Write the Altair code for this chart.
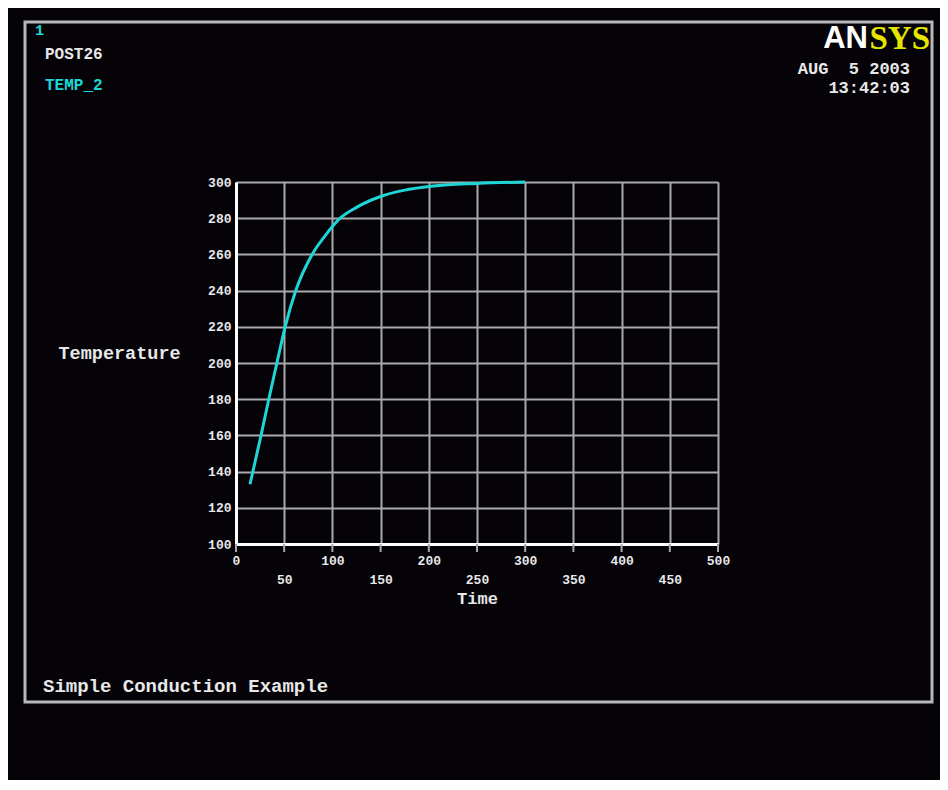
import altair as alt
import pandas as pd

# ---- data ----
time_vals = [14.5, 26, 34, 42, 51, 62, 79, 92, 108, 125, 150, 175, 200, 250, 300]
temp_vals = [133, 160, 180, 199, 220, 240, 260, 270, 280, 286, 292, 295.5, 297.5, 299.2, 300]

x_ticks = [0, 50, 100, 150, 200, 250, 300, 350, 400, 450, 500]
y_ticks = [100, 120, 140, 160, 180, 200, 220, 240, 260, 280, 300]

FONT = "Liberation Mono"
W, H = 482, 362
CYAN = "#1fd6d6"
GRID = "#a9a9a9"
TXT = "#e8e8e8"

df = pd.DataFrame({"Time": time_vals, "Temperature": temp_vals})
tick_df = pd.DataFrame({"t": x_ticks})

x_scale = alt.Scale(domain=[0, 500], nice=False, zero=False)
y_scale = alt.Scale(domain=[100, 300], nice=False, zero=False)

line = alt.Chart(df).mark_line(color=CYAN, strokeWidth=3, interpolate="monotone").encode(
    x=alt.X("Time:Q", scale=x_scale,
            axis=alt.Axis(values=x_ticks, title="Time", grid=True, ticks=False,
                          gridColor=GRID, gridWidth=2, domainColor="white", domainWidth=3,
                          labelColor=TXT, labelFont=FONT, labelFontWeight="bold",
                          labelFontSize=13, labelFlush=False, labelOverlap=False,
                          labelPadding={"condition": {"test": "datum.value % 100 === 0", "value": 10}, "value": 29},
                          titleColor=TXT, titleFont=FONT, titleFontWeight="bold",
                          titleFontSize=17, titleY=54, titleBaseline="middle")),
    y=alt.Y("Temperature:Q", scale=y_scale,
            axis=alt.Axis(values=y_ticks, title="Temperature", grid=True, ticks=False,
                          gridColor=GRID, gridWidth=2, domainColor="white", domainWidth=3,
                          labelColor=TXT, labelFont=FONT, labelFontWeight="bold",
                          labelFontSize=13, labelPadding=5, labelFlush=False,
                          labelOverlap=False,
                          titleColor=TXT, titleFont=FONT, titleFontWeight="bold",
                          titleFontSize=18.5, titleAngle=0, titleAlign="left",
                          titleX=-178, titleY=170, titleBaseline="middle")),
)

tick_ext = alt.Chart(tick_df).mark_rule(color=GRID, strokeWidth=2).encode(
    x=alt.X("t:Q", scale=x_scale),
    y=alt.value(H),
    y2=alt.value(H + 8),
)

one = pd.DataFrame({"k": [0]})


def label(txt, x, y, color=TXT, size=17, align="left", font=FONT, weight="bold"):
    return alt.Chart(one).mark_text(
        text=txt, color=color, fontSize=size, align=align, baseline="middle",
        font=font, fontWeight=weight
    ).encode(x=alt.value(x), y=alt.value(y))


frame = alt.Chart(one).mark_rect(fill=None, stroke="#b8b8b8", strokeWidth=3).encode(
    x=alt.value(-211), x2=alt.value(696), y=alt.value(-160), y2=alt.value(520)
)

texts = [
    label("1", -201, -152, color=CYAN, size=15),
    label("POST26", -191, -128, size=16),
    label("TEMP_2", -191, -97, color=CYAN, size=16),
    label("AN", 632, -143, color="white", size=31,
          font="Liberation Sans Narrow, Liberation Sans", align="right"),
    label("SYS", 694, -143, color="#e5e500", size=33, font="Liberation Serif", align="right"),
    label("AUG\u00a0\u00a05 2003", 674, -113, size=17, align="right"),
    label("13:42:03", 674, -94, size=17, align="right"),
    label("Simple Conduction Example", -193, 504, size=19),
]

chart = alt.layer(frame, tick_ext, line, *texts).properties(
    width=W, height=H,
    autosize=alt.AutoSizeParams(type="none"),
    padding={"left": 228, "top": 174, "right": 222, "bottom": 236},
    background="#050308",
).configure_view(stroke=None)

chart.save("out.html", embed_options={"renderer": "svg", "actions": False})
